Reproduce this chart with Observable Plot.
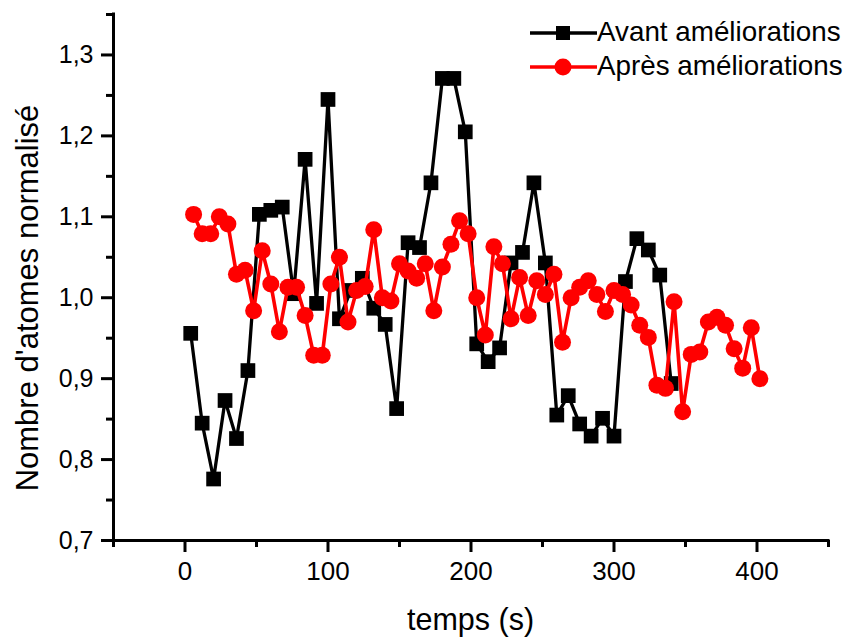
<!DOCTYPE html>
<html>
<head>
<meta charset="utf-8">
<script src="https://cdn.jsdelivr.net/npm/d3@7"></script>
<script src="https://cdn.jsdelivr.net/npm/@observablehq/plot@0.6"></script>
<style>
  body { margin: 0; background: #fff; }
  #wrap { position: relative; width: 845px; height: 637px; font-family: "Liberation Sans", Arial, sans-serif; color: #000; }
  #wrap svg.plot { position: absolute; left: 0; top: 0; }
  .txt { position: absolute; white-space: nowrap; }
</style>
</head>
<body>
<div id="wrap"></div>
<script>
// ---- Data ----
const tAvant = [4, 12, 20, 28, 36, 44, 52, 60, 68, 76, 84, 92, 100, 108, 116, 124, 132, 140, 148, 156, 164, 172, 180, 188, 196, 204, 212, 220, 228, 236, 244, 252, 260, 268, 276, 284, 292, 300, 308, 316, 324, 332, 340];
const vAvant = [0.956, 0.845, 0.776, 0.873, 0.826, 0.910, 1.103, 1.108, 1.112, 1.005, 1.171, 0.993, 1.245, 0.974, 1.009, 1.024, 0.987, 0.967, 0.863, 1.068, 1.062, 1.142, 1.271, 1.271, 1.205, 0.943, 0.921, 0.938, 1.043, 1.056, 1.142, 1.043, 0.855, 0.879, 0.844, 0.829, 0.851, 0.829, 1.020, 1.073, 1.059, 1.028, 0.894];
const tApres = [6, 12, 18, 24, 30, 36, 42, 48, 54, 60, 66, 72, 78, 84, 90, 96, 102, 108, 114, 120, 126, 132, 138, 144, 150, 156, 162, 168, 174, 180, 186, 192, 198, 204, 210, 216, 222, 228, 234, 240, 246, 252, 258, 264, 270, 276, 282, 288, 294, 300, 306, 312, 318, 324, 330, 336, 342, 348, 354, 360, 366, 372, 378, 384, 390, 396, 402];
const vApres = [1.103, 1.079, 1.079, 1.100, 1.091, 1.029, 1.034, 0.984, 1.058, 1.017, 0.958, 1.013, 1.013, 0.978, 0.929, 0.929, 1.017, 1.050, 0.970, 1.009, 1.014, 1.084, 1.000, 0.996, 1.042, 1.033, 1.024, 1.042, 0.984, 1.038, 1.066, 1.095, 1.079, 1.000, 0.954, 1.063, 1.042, 0.974, 1.025, 0.978, 1.021, 1.004, 1.029, 0.945, 1.000, 1.013, 1.021, 1.004, 0.983, 1.009, 1.004, 0.991, 0.966, 0.951, 0.892, 0.888, 0.995, 0.859, 0.930, 0.933, 0.970, 0.976, 0.966, 0.937, 0.913, 0.963, 0.900];
const xMajorTicks = [0, 100, 200, 300, 400];
const xMinorTicks = [-50, 50, 150, 250, 350, 450];
const yMajorTicks = [0.7, 0.8, 0.9, 1.0, 1.1, 1.2, 1.3];
const yMinorTicks = [0.75, 0.85, 0.95, 1.05, 1.15, 1.25, 1.35];
const seriesNames = ["Avant améliorations", "Après améliorations"];
const xTitle = "temps (s)";
const yTitle = "Nombre d'atomes normalisé";

const avant = tAvant.map((t, i) => ({t, v: vAvant[i]}));
const apres = tApres.map((t, i) => ({t, v: vApres[i]}));

const fmt = d => d.toFixed(1).replace(".", ",");
const blank = () => "";

const chart = Plot.plot({
  width: 845,
  height: 637,
  marginLeft: 113,
  marginRight: 17,
  marginTop: 14,
  marginBottom: 97,
  style: {fontFamily: "Liberation Sans, Arial, sans-serif", background: "white", overflow: "visible"},
  x: {domain: [-50, 450]},
  y: {domain: [0.7, 1.35]},
  marks: [
    Plot.ruleY([0.7], {stroke: "black", strokeWidth: 3, strokeLinecap: "square"}),
    Plot.ruleX([-50], {stroke: "black", strokeWidth: 3, strokeLinecap: "square"}),
    Plot.axisX(xMinorTicks, {tickSize: 7, strokeWidth: 3, tickFormat: blank, label: null}),
    Plot.axisX(xMajorTicks, {tickSize: 12, tickPadding: 9, strokeWidth: 3, fontSize: 26, label: null, fill: "black"}),
    Plot.axisY(yMinorTicks, {tickSize: 7, strokeWidth: 3, tickFormat: blank, label: null}),
    Plot.axisY(yMajorTicks, {tickSize: 12, tickPadding: 8, strokeWidth: 3, fontSize: 25, tickFormat: fmt, label: null, fill: "black"}),
    Plot.line(avant, {x: "t", y: "v", stroke: "black", strokeWidth: 3.3}),
    Plot.dot(avant, {x: "t", y: "v", symbol: "square", r: 8.3, fill: "black", stroke: "none"}),
    Plot.line(apres, {x: "t", y: "v", stroke: "#ff0000", strokeWidth: 3.6}),
    Plot.dot(apres, {x: "t", y: "v", symbol: "circle", r: 8.5, fill: "#ff0000", stroke: "none"})
  ]
});
chart.classList.add("plot");
const wrap = document.getElementById("wrap");
wrap.appendChild(chart);

function addText(str, css) {
  const d = document.createElement("div");
  d.className = "txt";
  d.textContent = str;
  Object.assign(d.style, css);
  wrap.appendChild(d);
  return d;
}

// axis titles
addText(xTitle, {left: "0px", width: "941px", textAlign: "center", top: "604px", fontSize: "30.5px", lineHeight: "30px"});
addText(yTitle, {left: (28 - 300) + "px", top: (298 - 15) + "px", width: "600px", textAlign: "center", fontSize: "31px", lineHeight: "30px", transform: "rotate(-90deg)"});

// legend
const legendRows = [
  {name: seriesNames[0], color: "black", symbol: "square", cy: 33},
  {name: seriesNames[1], color: "#ff0000", symbol: "circle", cy: 67}
];
legendRows.forEach(row => {
  const ns = "http://www.w3.org/2000/svg";
  const s = document.createElementNS(ns, "svg");
  s.setAttribute("width", 70);
  s.setAttribute("height", 24);
  s.style.position = "absolute";
  s.style.left = "529px";
  s.style.top = (row.cy - 12) + "px";
  const ln = document.createElementNS(ns, "line");
  ln.setAttribute("x1", 1); ln.setAttribute("x2", 68);
  ln.setAttribute("y1", 12); ln.setAttribute("y2", 12);
  ln.setAttribute("stroke", row.color); ln.setAttribute("stroke-width", 3.5);
  s.appendChild(ln);
  let m;
  if (row.symbol === "square") {
    m = document.createElementNS(ns, "rect");
    m.setAttribute("x", 34 - 7); m.setAttribute("y", 12 - 7);
    m.setAttribute("width", 14); m.setAttribute("height", 14);
  } else {
    m = document.createElementNS(ns, "circle");
    m.setAttribute("cx", 34); m.setAttribute("cy", 12); m.setAttribute("r", 8.5);
  }
  m.setAttribute("fill", row.color);
  s.appendChild(m);
  wrap.appendChild(s);
  addText(row.name, {left: "597px", top: (row.cy - 15) + "px", fontSize: "27.8px", lineHeight: "28px"});
});
</script>
</body>
</html>
